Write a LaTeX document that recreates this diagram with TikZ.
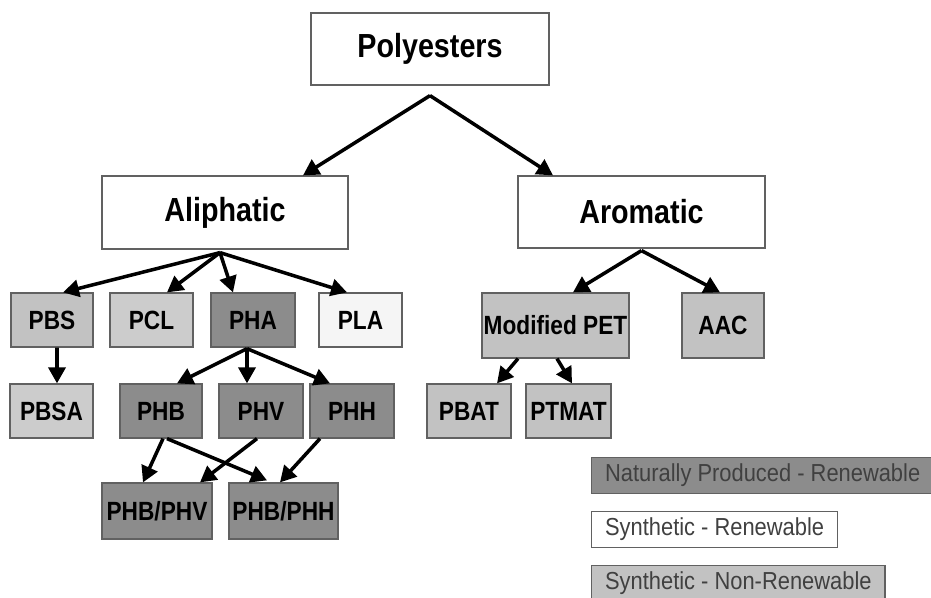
\documentclass[tikz,border=0pt]{standalone}
\usepackage{fontspec}
\usetikzlibrary{arrows.meta,calc}
\newfontfamily\boxfont{Liberation Sans}[FakeStretch=0.86]
\newfontfamily\legfont{Liberation Sans}[FakeStretch=0.89]
\definecolor{natgray}{gray}{0.55}
\definecolor{syngray}{gray}{0.76}
\definecolor{lightgray}{gray}{0.80}
\definecolor{plagray}{gray}{0.96}
\definecolor{edgegray}{gray}{0.38}
\definecolor{leggray}{gray}{0.25}
\begin{document}
\begin{tikzpicture}[x=0.02cm,y=-0.02cm,
    wh/.style 2 args={minimum width=#1*0.02cm,minimum height=#2*0.02cm},
    cls/.style={draw=edgegray,line width=0.7pt,inner sep=0pt,font=\boxfont\bfseries\fontsize{15}{17}\selectfont},
    top/.style={cls,fill=white,font=\boxfont\bfseries\fontsize{19}{22}\selectfont},
    nat/.style={cls,fill=natgray},
    syn/.style={cls,fill=syngray},
    leg/.style={draw=edgegray,line width=0.7pt,anchor=west,inner xsep=0.27cm,inner ysep=0pt,
        minimum height=36*0.02cm,text=leggray,font=\legfont\fontsize{14}{16}\selectfont},
    arr/.style={line width=2pt,-{Triangle[length=0.32cm,width=0.34cm]}}]
    \useasboundingbox (0,0) rectangle (931,598);
    \node[top,wh={238}{72}] (poly) at (430,49) {Polyesters};
    \node[top,wh={246}{73}] (aliph) at (225,212.5) {Aliphatic};
    \node[top,wh={247}{72}] (arom) at (641.5,212) {Aromatic};
    \node[syn,wh={82}{54}] (pbs) at (52,320) {PBS};
    \node[cls,fill=lightgray,wh={83}{54}] (pcl) at (151.5,320) {PCL};
    \node[nat,wh={84}{54}] (pha) at (253,320) {PHA};
    \node[cls,fill=plagray,wh={83}{54}] (pla) at (360.5,320) {PLA};
    \node[cls,fill=lightgray,wh={83}{54}] (pbsa) at (51.5,411) {PBSA};
    \node[nat,wh={82}{54}] (phb) at (161,411) {PHB};
    \node[nat,wh={84}{54}] (phv) at (261,411) {PHV};
    \node[nat,wh={84}{54}] (phh) at (352,411) {PHH};
    \node[nat,wh={110}{56}] (phbphv) at (157,511) {PHB/PHV};
    \node[nat,wh={109}{56}] (phbphh) at (283.5,511) {PHB/PHH};
    \node[syn,wh={147}{65}] (modpet) at (555.5,325.5) {Modified PET};
    \node[syn,wh={82}{65}] (aac) at (723,325.5) {AAC};
    \node[syn,wh={84}{54}] (pbat) at (469,411) {PBAT};
    \node[syn,wh={85}{54}] (ptmat) at (568.5,411) {PTMAT};
    \node[leg,fill=natgray] (legnat) at (591,475.5) {Naturally Produced - Renewable\hspace*{0.3cm}};
    \node[leg,fill=white] (legsyn) at (591,529.5) {Synthetic - Renewable};
    \node[leg,fill=syngray] (legnon) at (591,583.5) {Synthetic - Non-Renewable};
    \coordinate (polyF) at ($(poly.south)+(0,10)$);
    \coordinate (aliphF) at ($(aliph.south)+(-5,3)$);
    \coordinate (aromF) at ($(arom.south)+(0,2)$);
    \coordinate (phaF) at ($(pha.south)+(-6,1)$);
    \draw[arr] (polyF) -- ($(aliph.north)+(78,0)$);
    \draw[arr] (polyF) -- ($(arom.north)+(-88.5,0)$);
    \draw[arr] (aliphF) -- ($(pbs.north)+(11,0)$);
    \draw[arr] (aliphF) -- ($(pcl.north)+(15.5,0)$);
    \draw[arr] (aliphF) -- ($(pha.north)+(-20,0)$);
    \draw[arr] (aliphF) -- ($(pla.north)+(-13.5,0)$);
    \draw[arr] ($(pbs.south)+(5,0)$) -- ($(pbsa.north)+(5.5,0)$);
    \draw[arr] (phaF) -- ($(phb.north)+(16,0)$);
    \draw[arr] (phaF) -- ($(phv.north)+(-14,0)$);
    \draw[arr] (phaF) -- ($(phh.north)+(-22,0)$);
    \draw[arr] ($(phb.south)+(2,0)$) -- ($(phbphv.north)+(-14,0)$);
    \draw[arr] ($(phb.south)+(6,0)$) -- ($(phbphh.north)+(-16.5,-2)$);
    \draw[arr] ($(phv.south)+(-4,0)$) -- ($(phbphv.north)+(43,0)$);
    \draw[arr] ($(phh.south)+(-32,0)$) -- ($(phbphh.north)+(-3.5,0)$);
    \draw[arr] (aromF) -- ($(modpet.north)+(17.5,0)$);
    \draw[arr] (aromF) -- ($(aac.north)+(-3,0)$);
    \draw[arr] ($(modpet.south)+(-37.5,0)$) -- ($(pbat.north)+(28,0)$);
    \draw[arr] ($(modpet.south)+(1.5,0)$) -- ($(ptmat.north)+(3.5,0)$);
\end{tikzpicture}
\end{document}
